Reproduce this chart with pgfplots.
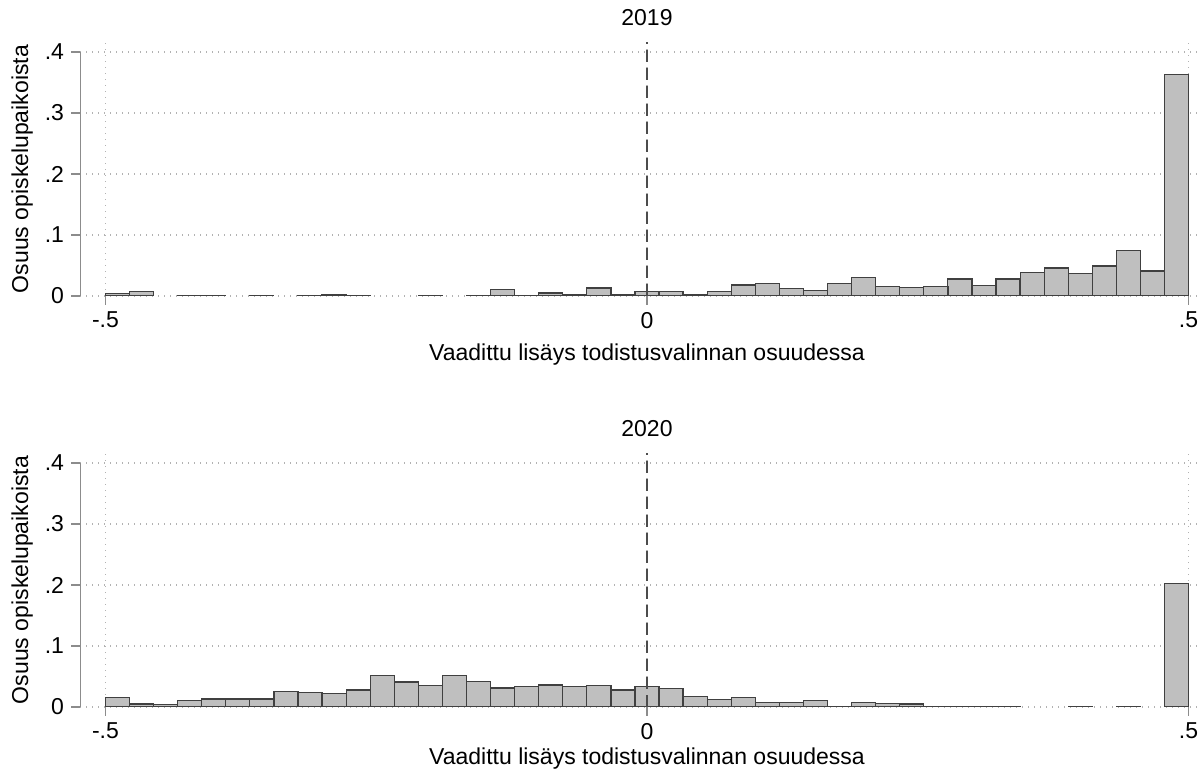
\documentclass[border=0pt]{standalone}
\usepackage{fontspec}
\setmainfont{Liberation Sans}
\usepackage{pgfplots}
\usepackage{pgfplotstable}
\pgfplotsset{compat=1.18}

% bin centres (width 1/45), share of places; empty bins left out
\pgfplotstableread{
x y
-0.4889 0.004
-0.4667 0.008
-0.4222 0.001
-0.4000 0.001
-0.3556 0.001
-0.3111 0.001
-0.2889 0.002
-0.2667 0.001
-0.2000 0.001
-0.1556 0.001
-0.1333 0.010
-0.1111 0.001
-0.0889 0.005
-0.0667 0.003
-0.0444 0.013
-0.0222 0.003
0.0000 0.007
0.0222 0.008
0.0444 0.003
0.0667 0.008
0.0889 0.018
0.1111 0.021
0.1333 0.012
0.1556 0.009
0.1778 0.020
0.2000 0.030
0.2222 0.015
0.2444 0.014
0.2667 0.015
0.2889 0.028
0.3111 0.017
0.3333 0.028
0.3556 0.038
0.3778 0.046
0.4000 0.037
0.4222 0.049
0.4444 0.075
0.4667 0.041
0.4889 0.363
}\dataA

\pgfplotstableread{
x y
-0.4889 0.015
-0.4667 0.005
-0.4444 0.004
-0.4222 0.010
-0.4000 0.013
-0.3778 0.013
-0.3556 0.013
-0.3333 0.026
-0.3111 0.024
-0.2889 0.022
-0.2667 0.028
-0.2444 0.052
-0.2222 0.041
-0.2000 0.035
-0.1778 0.051
-0.1556 0.042
-0.1333 0.031
-0.1111 0.033
-0.0889 0.036
-0.0667 0.034
-0.0444 0.035
-0.0222 0.028
0.0000 0.033
0.0222 0.030
0.0444 0.017
0.0667 0.0125
0.0889 0.015
0.1111 0.008
0.1333 0.007
0.1556 0.011
0.1778 0.001
0.2000 0.007
0.2222 0.006
0.2444 0.005
0.2667 0.001
0.2889 0.001
0.3111 0.001
0.3333 0.001
0.4000 0.001
0.4444 0.001
0.4889 0.203
}\dataB

\pgfplotsset{
  histo/.style={
    scale only axis,
    width=558.5pt, height=127pt,
    anchor=south west,
    xmin=-0.5235, xmax=0.5078,
    ymin=0, ymax=0.4164,
    axis line style={draw=none},
    xtick pos=bottom, ytick pos=left,
    tick align=outside,
    major tick length=4.5pt,
    tick style={black!45, line width=0.6pt},
    xtick={-0.5,0,0.5}, xticklabels={-.5,0,.5},
    ytick={0,0.1,0.2,0.3,0.4}, yticklabels={0,.1,.2,.3,.4},
    xmajorgrids, ymajorgrids,
    grid style={black!30, line width=0.6pt, dash pattern=on 0.6pt off 2.4pt},
    xlabel={Vaadittu lisäys todistusvalinnan osuudessa},
    ylabel={Osuus opiskelupaikoista},
    x label style={at={(ticklabel cs:0.5076)}, anchor=north},
    y label style={yshift=-1pt},
    title style={at={(0.5076,1)}, anchor=south, yshift=-1.3pt},
    tick label style={font=\fontsize{11.5}{13}\selectfont},
    label style={font=\fontsize{11.5}{13}\selectfont},
    title style={font=\fontsize{11.5}{13}\selectfont},
  },
  bars/.style={ybar, bar width=0.022222, bar shift=0pt,
    fill=black!25, draw=black!75, line width=0.6pt},
}

\begin{document}
\begin{tikzpicture}
\useasboundingbox (0,0) rectangle (601.5pt,384.5pt);

\begin{axis}[histo, at={(40pt,236.5pt)}, title={2019},
  x label style={yshift=-1pt}]
\addplot[bars] table[x=x, y=y] {\dataA};
\draw[black!70, line width=0.6pt, dash pattern=on 6pt off 3pt] (axis cs:0,0) -- (axis cs:0,0.4164);
\draw[black!45, line width=0.6pt] (axis cs:-0.5235,0) -- (axis cs:-0.5235,0.4);
\end{axis}

\begin{axis}[histo, at={(40pt,31pt)}, title={2020},
  x label style={yshift=2.5pt}]
\addplot[bars] table[x=x, y=y] {\dataB};
\draw[black!70, line width=0.6pt, dash pattern=on 6pt off 3pt] (axis cs:0,0) -- (axis cs:0,0.4164);
\draw[black!45, line width=0.6pt] (axis cs:-0.5235,0) -- (axis cs:-0.5235,0.4);
\end{axis}
\end{tikzpicture}
\end{document}
